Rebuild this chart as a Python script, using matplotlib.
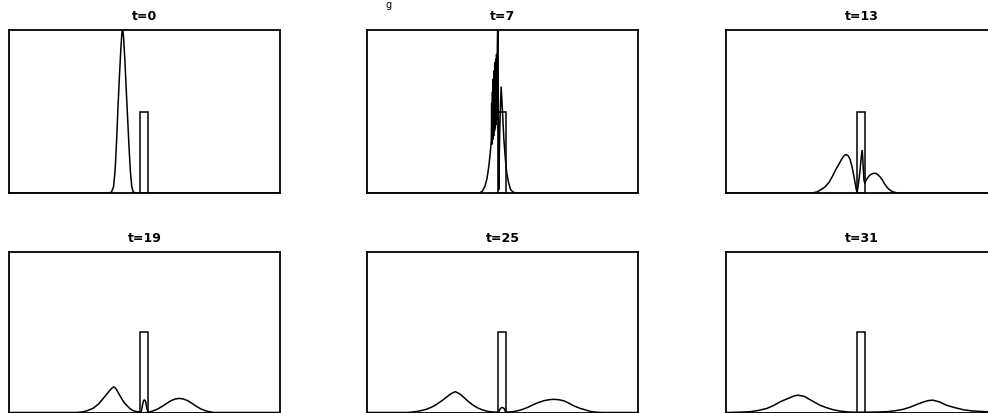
import numpy as np
import matplotlib
matplotlib.use("Agg")
from matplotlib import pyplot as plt

# positions are in percent of the box width, heights relative to the box height
titles = ["t=0", "t=7", "t=13", "t=19", "t=25", "t=31"]

barrier_left = 48.5
barrier_right = 51.3
barrier_height = 0.5

x_t0 = [0, 36.5, 37.8, 38.6, 39.2, 39.7, 40.2, 40.7, 41.2, 41.6, 41.9, 42.3, 42.8,
        43.3, 43.8, 44.3, 44.8, 45.3, 45.8, 46.5, 100]
y_t0 = [0, 0, 0.005, 0.04, 0.15, 0.32, 0.52, 0.7, 0.86, 0.97, 1.02, 0.95, 0.8,
        0.62, 0.45, 0.28, 0.13, 0.04, 0.008, 0, 0]

x_t7 = [0, 41.5, 42.5, 43.5, 44.3, 45.0, 45.5, 45.9,
        46.0, 46.15, 46.3, 46.45, 46.6, 46.75, 46.9, 47.05, 47.2, 47.35, 47.5,
        47.65, 47.8, 47.95, 48.1,
        48.3, 48.6, 49.0, 49.5, 50.0, 50.5, 51.0, 51.6, 52.3, 53.0, 54.0, 55.0, 100]
y_t7 = [0, 0, 0.01, 0.04, 0.09, 0.17, 0.25, 0.33,
        0.55, 0.3, 0.62, 0.33, 0.7, 0.35, 0.75, 0.38, 0.8, 0.4, 0.82,
        0.42, 0.85, 0.45, 0.9,
        1.1, 0.02, 0.4, 0.65, 0.5, 0.33, 0.22, 0.12, 0.06, 0.02, 0.005, 0, 0]

x_t13 = [0, 31.6, 33.5, 35.0, 36.5, 38.0, 39.2, 40.4, 41.6, 42.6, 43.5, 44.3, 45.0,
         45.7, 46.3, 46.9, 47.5, 48.1, 48.4, 48.9, 49.4, 49.8, 50.1, 50.3, 50.6,
         50.9, 51.2, 51.6, 52.3, 53.0, 53.8, 54.6, 55.3, 56.0, 56.8, 57.6, 58.4,
         59.2, 60.0, 61.0, 62.0, 63.5, 100]
y_t13 = [0, 0, 0.006, 0.02, 0.037, 0.065, 0.1, 0.14, 0.175, 0.205, 0.228, 0.236, 0.23,
         0.21, 0.175, 0.13, 0.075, 0.02, 0.005, 0.06, 0.13, 0.2, 0.25, 0.26, 0.17,
         0.08, 0.06, 0.075, 0.095, 0.108, 0.117, 0.121, 0.12, 0.113, 0.1, 0.082, 0.06,
         0.04, 0.025, 0.012, 0.005, 0, 0]

x_t19 = [0, 25.0, 27.3, 29.0, 31.0, 33.0, 34.7, 36.0, 37.1, 38.0, 38.7, 39.4, 40.1,
         40.8, 41.8, 42.6, 43.3, 44.5, 45.7, 47.0, 48.2, 48.8, 49.3, 49.7, 50.0,
         50.4, 50.8, 51.2, 52.0, 53.1, 54.9, 56.7, 58.3, 59.8, 61.3, 62.9, 64.4,
         65.9, 67.5, 69.0, 70.8, 72.7, 74.2, 75.7, 100]
y_t19 = [0, 0, 0.004, 0.012, 0.026, 0.052, 0.086, 0.113, 0.136, 0.152, 0.16, 0.15, 0.13,
         0.109, 0.08, 0.06, 0.047, 0.026, 0.012, 0.006, 0.004, 0.004, 0.05, 0.076, 0.078,
         0.07, 0.03, 0.004, 0.004, 0.01, 0.022, 0.04, 0.058, 0.074, 0.084, 0.088, 0.084,
         0.074, 0.057, 0.04, 0.022, 0.01, 0.004, 0, 0]

x_t25 = [0, 15.0, 17.0, 19.5, 21.9, 23.8, 25.6, 27.5, 29.3, 31.0, 32.6, 34.3, 36.0,
         37.5, 39.1, 40.9, 42.8, 44.6, 46.4, 48.6, 49.2, 49.9, 50.6, 51.2, 53.8,
         55.6, 57.5, 59.3, 61.1, 63.2, 65.4, 67.2, 69.1, 71.0, 72.8, 74.6, 76.5,
         78.6, 80.8, 82.6, 84.4, 87.0, 100]
y_t25 = [0, 0, 0.003, 0.01, 0.02, 0.033, 0.05, 0.072, 0.095, 0.117, 0.13, 0.115, 0.09,
         0.067, 0.046, 0.028, 0.015, 0.007, 0.003, 0.002, 0.025, 0.032, 0.025, 0.002, 0.005,
         0.011, 0.02, 0.032, 0.047, 0.062, 0.074, 0.08, 0.082, 0.079, 0.072, 0.057, 0.04,
         0.026, 0.015, 0.006, 0.002, 0, 0]

x_t31 = [0, 5.0, 8.9, 12.0, 15.0, 17.5, 19.9, 21.8, 23.6, 25.2, 26.7, 28.9, 31.0,
         32.9, 34.7, 37.1, 39.6, 42.0, 44.5, 47.0, 52.0, 56.0, 59.3, 62.4, 65.4,
         67.9, 70.4, 72.6, 74.5, 76.3, 78.8, 81.4, 84.5, 87.6, 90.7, 93.7, 97.0, 100]
y_t31 = [0, 0.002, 0.005, 0.013, 0.025, 0.043, 0.066, 0.08, 0.092, 0.104, 0.108, 0.1, 0.08,
         0.062, 0.045, 0.03, 0.017, 0.009, 0.004, 0.002, 0.002, 0.003, 0.005, 0.011, 0.02,
         0.033, 0.05, 0.064, 0.074, 0.077, 0.066, 0.045, 0.03, 0.017, 0.01, 0.007, 0.004, 0.003]

curves = [(x_t0, y_t0), (x_t7, y_t7), (x_t13, y_t13),
          (x_t19, y_t19), (x_t25, y_t25), (x_t31, y_t31)]

fig = plt.figure(figsize=(9.88, 4.13), dpi=100)

W, H = 988.0, 413.0
lefts = [9, 367, 726]
rows = [(30, 193), (252, 412.5)]

for i, (xs, ys) in enumerate(curves):
    r, c = divmod(i, 3)
    top, bottom = rows[r]
    ax = fig.add_axes([lefts[c] / W, 1 - bottom / H, 271 / W, (bottom - top) / H])
    ax.plot(xs, ys, color="black", lw=1.1, solid_joinstyle="round")
    ax.bar((barrier_left + barrier_right) / 2, barrier_height,
           width=barrier_right - barrier_left, fill=False,
           edgecolor="black", linewidth=1.1)
    ax.set_xlim(0, 100)
    ax.set_ylim(0, 1)
    ax.set_xticks([])
    ax.set_yticks([])
    for s in ax.spines.values():
        s.set_linewidth(1.3)
    ax.text(0.5, 1 + 13.0 / (bottom - top), titles[i], transform=ax.transAxes,
            ha="center", va="center", fontsize=9, fontweight="bold")

# bit of the caption above the plots
fig.text(389 / W, 0.999, "g", ha="center", va="top", fontsize=7)

fig.savefig("out.png", dpi=100)
